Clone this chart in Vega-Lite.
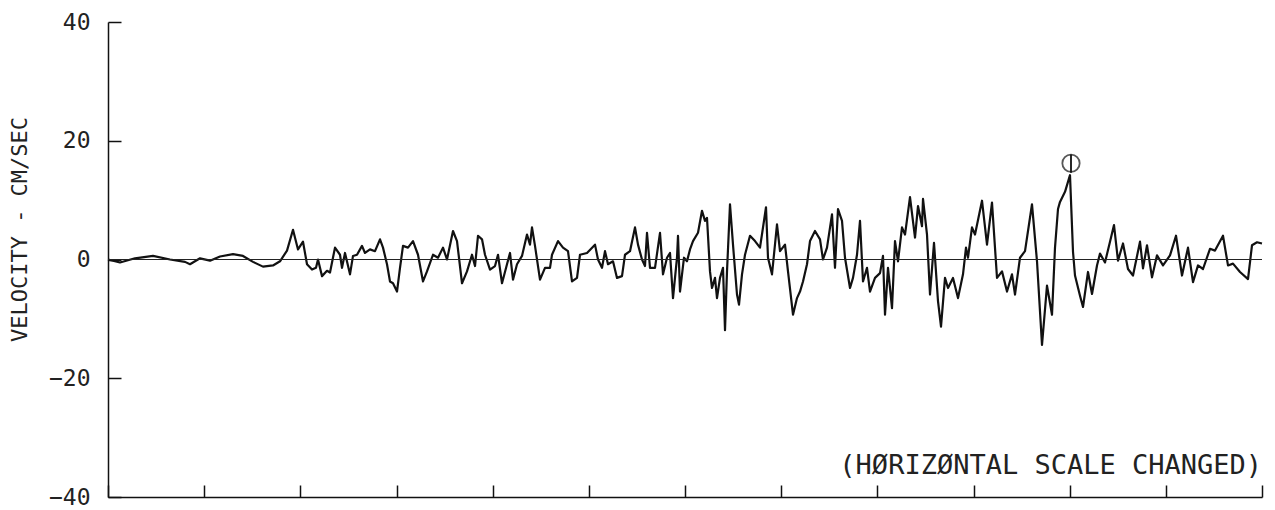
{
  "$schema": "https://vega.github.io/schema/vega-lite/v6.json",
  "width": 1154,
  "height": 475,
  "autosize": {"type": "none"},
  "padding": {"left": 108, "top": 22, "right": 13, "bottom": 13},
  "background": "white",
  "config": {
    "view": {"stroke": null},
    "axis": {"domainColor": "#111", "tickColor": "#111", "domainWidth": 1.5, "tickWidth": 1.5, "grid": false}
  },
  "datasets": {
    "trace": [
      {"t":0,"v":0},{"t":12,"v":-0.5},{"t":27,"v":0.2},{"t":45,"v":0.6},{"t":62,"v":0},{"t":77,"v":-0.4},{"t":82,"v":-0.8},{"t":92,"v":0.2},{"t":102,"v":-0.2},{"t":112,"v":0.5},{"t":125,"v":0.9},{"t":135,"v":0.6},{"t":145,"v":-0.4},{"t":155,"v":-1.2},{"t":165,"v":-1.0},{"t":172,"v":-0.3},{"t":179,"v":1.5},{"t":185,"v":5.0},{"t":190,"v":1.7},{"t":195,"v":3.0},{"t":199,"v":-0.8},{"t":204,"v":-1.7},{"t":208,"v":-1.4},{"t":210,"v":0},{"t":214,"v":-2.8},{"t":219,"v":-1.9},{"t":222,"v":-2.2},{"t":227,"v":2.0},{"t":232,"v":0.8},{"t":234,"v":-1.4},{"t":237,"v":1.1},{"t":242,"v":-2.5},{"t":245,"v":0.6},{"t":249,"v":0.8},{"t":254,"v":2.3},{"t":257,"v":1.1},{"t":262,"v":1.7},{"t":267,"v":1.4},{"t":272,"v":3.4},{"t":275,"v":2.0},{"t":279,"v":-0.8},{"t":282,"v":-3.7},{"t":285,"v":-4.0},{"t":289,"v":-5.4},{"t":292,"v":-1.4},{"t":295,"v":2.3},{"t":300,"v":2.0},{"t":305,"v":3.1},{"t":310,"v":0.8},{"t":315,"v":-3.7},{"t":319,"v":-2.0},{"t":325,"v":0.8},{"t":330,"v":0.3},{"t":335,"v":2.0},{"t":339,"v":0},{"t":345,"v":4.8},{"t":349,"v":3.1},{"t":354,"v":-4.0},{"t":359,"v":-2.0},{"t":364,"v":0.8},{"t":367,"v":-1.1},{"t":370,"v":4.0},{"t":374,"v":3.4},{"t":377,"v":0.8},{"t":382,"v":-1.7},{"t":387,"v":-1.1},{"t":390,"v":0.8},{"t":394,"v":-4.0},{"t":399,"v":-0.8},{"t":402,"v":1.1},{"t":405,"v":-3.4},{"t":409,"v":-0.8},{"t":414,"v":0.6},{"t":419,"v":4.2},{"t":422,"v":2.5},{"t":424,"v":5.4},{"t":427,"v":2.3},{"t":432,"v":-3.4},{"t":437,"v":-1.4},{"t":442,"v":-1.4},{"t":444,"v":0.8},{"t":450,"v":3.1},{"t":455,"v":2.0},{"t":460,"v":1.4},{"t":464,"v":-3.7},{"t":469,"v":-3.1},{"t":472,"v":0.8},{"t":479,"v":1.1},{"t":487,"v":2.5},{"t":490,"v":0},{"t":494,"v":-1.4},{"t":497,"v":1.4},{"t":500,"v":-0.8},{"t":505,"v":-0.3},{"t":509,"v":-3.1},{"t":514,"v":-2.8},{"t":517,"v":0.8},{"t":522,"v":1.4},{"t":527,"v":5.4},{"t":530,"v":2.5},{"t":534,"v":0},{"t":537,"v":-1.1},{"t":539,"v":4.5},{"t":542,"v":-1.4},{"t":547,"v":-1.4},{"t":552,"v":4.5},{"t":555,"v":-2.5},{"t":559,"v":0.3},{"t":562,"v":1.1},{"t":565,"v":-6.5},{"t":569,"v":0.3},{"t":570,"v":4.0},{"t":572,"v":-5.4},{"t":576,"v":0.3},{"t":579,"v":-0.3},{"t":582,"v":1.7},{"t":585,"v":3.1},{"t":590,"v":4.5},{"t":594,"v":8.2},{"t":597,"v":6.5},{"t":599,"v":7.0},{"t":602,"v":-2.0},{"t":604,"v":-4.8},{"t":607,"v":-3.1},{"t":609,"v":-6.5},{"t":612,"v":-3.1},{"t":615,"v":-1.4},{"t":617,"v":-11.9},{"t":619,"v":-2.0},{"t":622,"v":9.3},{"t":625,"v":2.5},{"t":629,"v":-5.9},{"t":631,"v":-7.6},{"t":634,"v":-2.5},{"t":637,"v":0.8},{"t":642,"v":4.0},{"t":647,"v":3.1},{"t":652,"v":2.0},{"t":658,"v":8.8},{"t":660,"v":0.3},{"t":664,"v":-2.5},{"t":669,"v":5.9},{"t":672,"v":1.4},{"t":677,"v":2.5},{"t":680,"v":-2.0},{"t":685,"v":-9.3},{"t":689,"v":-6.5},{"t":692,"v":-5.4},{"t":695,"v":-3.7},{"t":699,"v":-0.8},{"t":702,"v":3.1},{"t":707,"v":4.8},{"t":712,"v":3.4},{"t":715,"v":0},{"t":719,"v":2.0},{"t":724,"v":7.6},{"t":727,"v":-1.4},{"t":730,"v":8.5},{"t":734,"v":6.5},{"t":737,"v":0.3},{"t":742,"v":-4.8},{"t":745,"v":-3.1},{"t":749,"v":0.8},{"t":752,"v":6.5},{"t":755,"v":-3.7},{"t":759,"v":-1.4},{"t":762,"v":-5.4},{"t":767,"v":-3.1},{"t":772,"v":-2.3},{"t":775,"v":0.6},{"t":777,"v":-9.3},{"t":780,"v":-1.4},{"t":784,"v":-8.2},{"t":787,"v":3.1},{"t":790,"v":-0.3},{"t":794,"v":5.4},{"t":797,"v":4.2},{"t":802,"v":10.5},{"t":807,"v":3.7},{"t":810,"v":9.0},{"t":814,"v":5.6},{"t":815,"v":10.2},{"t":819,"v":4.2},{"t":822,"v":-5.9},{"t":826,"v":2.8},{"t":830,"v":-7.0},{"t":833,"v":-11.3},{"t":837,"v":-3.1},{"t":840,"v":-4.8},{"t":845,"v":-3.1},{"t":850,"v":-6.5},{"t":855,"v":-2.5},{"t":858,"v":2.0},{"t":860,"v":0.3},{"t":864,"v":5.4},{"t":867,"v":4.2},{"t":874,"v":9.9},{"t":879,"v":2.5},{"t":884,"v":9.6},{"t":889,"v":-3.1},{"t":894,"v":-2.0},{"t":899,"v":-5.4},{"t":904,"v":-2.5},{"t":907,"v":-5.9},{"t":912,"v":0.3},{"t":917,"v":1.4},{"t":924,"v":9.3},{"t":929,"v":-0.3},{"t":934,"v":-14.4},{"t":939,"v":-4.4},{"t":944,"v":-9.3},{"t":947,"v":2.0},{"t":950,"v":8.5},{"t":952,"v":9.7},{"t":957,"v":11.4},{"t":962,"v":14.2},{"t":965,"v":1.3},{"t":967,"v":-2.7},{"t":972,"v":-6.1},{"t":975,"v":-8.0},{"t":980,"v":-2.1},{"t":984,"v":-5.8},{"t":989,"v":-1.0},{"t":992,"v":1.0},{"t":997,"v":-0.5},{"t":1002,"v":3.0},{"t":1006,"v":5.8},{"t":1010,"v":-0.2},{"t":1015,"v":2.7},{"t":1020,"v":-1.6},{"t":1025,"v":-2.7},{"t":1032,"v":3.0},{"t":1035,"v":-1.5},{"t":1039,"v":2.4},{"t":1044,"v":-3.0},{"t":1049,"v":0.7},{"t":1055,"v":-1.0},{"t":1062,"v":0.7},{"t":1068,"v":4.0},{"t":1074,"v":-2.7},{"t":1080,"v":2.0},{"t":1085,"v":-3.8},{"t":1090,"v":-1.0},{"t":1095,"v":-1.6},{"t":1102,"v":1.8},{"t":1107,"v":1.5},{"t":1115,"v":4.0},{"t":1120,"v":-1.0},{"t":1125,"v":-0.7},{"t":1132,"v":-2.1},{"t":1140,"v":-3.3},{"t":1144,"v":2.4},{"t":1149,"v":2.9},{"t":1154,"v":2.7}
    ],
    "marker": [{"t": 963, "v": 16.2, "v1": 14.6, "v2": 17.7}],
    "note": [{"t": 1154, "v": -34.7, "label": "(HØRIZØNTAL SCALE CHANGED)"}]
  },
  "layer": [
    {
      "data": {"name": "trace"},
      "mark": {"type": "line", "color": "#111", "strokeWidth": 2.2, "strokeJoin": "round"},
      "encoding": {
        "x": {
          "field": "t", "type": "quantitative",
          "scale": {"domain": [0, 1154], "nice": false, "zero": false},
          "axis": {
            "title": null, "labels": false, "tickSize": -12,
            "values": [0, 96.17, 192.33, 288.5, 384.67, 480.83, 577, 673.17, 769.33, 865.5, 961.67, 1057.83, 1154]
          }
        },
        "y": {
          "field": "v", "type": "quantitative",
          "scale": {"domain": [-40, 40], "nice": false},
          "axis": {
            "title": "VELOCITY - CM/SEC",
            "values": [-40, -20, 0, 20, 40],
            "tickSize": -13,
            "labelPadding": 31,
            "labelFont": "DejaVu Sans Mono", "labelFontSize": 23, "labelColor": "#222",
            "titleFont": "DejaVu Sans Mono", "titleFontSize": 22, "titleFontWeight": "normal", "titleColor": "#222",
            "titleAngle": -90, "titleX": -89, "titleY": 207, "titleAlign": "center", "titleBaseline": "middle"
          }
        }
      }
    },
    {
      "data": {"values": [{"z": 0}]},
      "mark": {"type": "rule", "color": "#222", "strokeWidth": 1},
      "encoding": {
        "y": {"field": "z", "type": "quantitative"}
      }
    },
    {
      "data": {"name": "marker"},
      "mark": {"type": "point", "shape": "circle", "filled": false, "size": 300, "color": "#111", "strokeWidth": 1.8},
      "encoding": {
        "x": {"field": "t", "type": "quantitative"},
        "y": {"field": "v", "type": "quantitative"}
      }
    },
    {
      "data": {"name": "marker"},
      "mark": {"type": "rule", "color": "#111", "strokeWidth": 1.8},
      "encoding": {
        "x": {"field": "t", "type": "quantitative"},
        "y": {"field": "v1", "type": "quantitative"},
        "y2": {"field": "v2"}
      }
    },
    {
      "data": {"name": "note"},
      "mark": {"type": "text", "align": "right", "baseline": "middle", "font": "DejaVu Sans Mono", "fontSize": 27, "color": "#222"},
      "encoding": {
        "x": {"field": "t", "type": "quantitative"},
        "y": {"field": "v", "type": "quantitative"},
        "text": {"field": "label"}
      }
    }
  ]
}
